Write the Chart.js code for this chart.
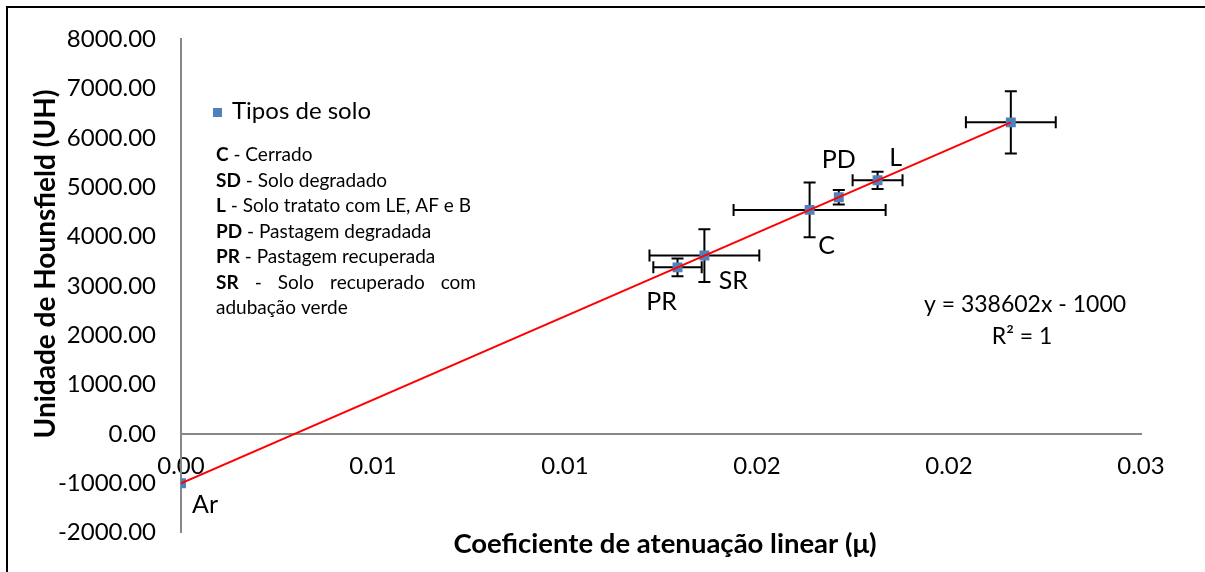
<!DOCTYPE html>
<html>
<head>
<meta charset="utf-8">
<script src="https://cdn.jsdelivr.net/npm/chart.js@4"></script>
<style>
html,body{margin:0;padding:0;background:#fff;}
#wrap{width:1205px;height:572px;position:relative;}
</style>
</head>
<body>
<div id="wrap"><canvas id="c" width="1205" height="572"></canvas></div>
<script>
// ---- data ----
const soilLabels = ['Ar', 'PR', 'SR', 'C', 'PD', 'L', 'SD'];
const muValues   = [0, 0.01293, 0.01363, 0.01637, 0.01713, 0.01814, 0.02161];
const huValues   = [-1000, 3378, 3617, 4543, 4799, 5144, 6318];
const muErrors   = [0, 0.00063, 0.00143, 0.00198, 0, 0.00065, 0.00117];
const huErrors   = [0, 180, 536, 556, 149, 175, 629];
const trendX     = [0, 0.02161];
const trendY     = [-1000, 6318];
const xTickLabels = ['0.00', '0.01', '0.01', '0.02', '0.02', '0.03'];
const yTickLabels = ['-2000.00','-1000.00','0.00','1000.00','2000.00','3000.00','4000.00','5000.00','6000.00','7000.00','8000.00'];
const legendLines = [
  ['C', ' - Cerrado'],
  ['SD', ' - Solo degradado'],
  ['L', ' - Solo tratato com LE, AF e B'],
  ['PD', ' - Pastagem degradada'],
  ['PR', ' - Pastagem recuperada'],
  ['SR', ' -  Solo  recuperado  com'],
  ['', 'adubação verde']
];
const FONT = 'Lato, "Open Sans", sans-serif';

const points = muValues.map((x, i) => ({x: x, y: huValues[i]}));
const trend = trendX.map((x, i) => ({x: x, y: trendY[i]}));

const errorBars = {
  id: 'errorBars',
  beforeDatasetsDraw(chart) {
    const ctx = chart.ctx, xs = chart.scales.x, ys = chart.scales.y;
    ctx.save();
    ctx.strokeStyle = '#000';
    ctx.lineWidth = 2;
    const cap = 6;
    muValues.forEach((mx, i) => {
      const px = xs.getPixelForValue(mx), py = ys.getPixelForValue(huValues[i]);
      if (muErrors[i] > 0) {
        const l = xs.getPixelForValue(mx - muErrors[i]), r = xs.getPixelForValue(mx + muErrors[i]);
        ctx.beginPath();
        ctx.moveTo(l, py); ctx.lineTo(r, py);
        ctx.moveTo(l, py - cap); ctx.lineTo(l, py + cap);
        ctx.moveTo(r, py - cap); ctx.lineTo(r, py + cap);
        ctx.stroke();
      }
      if (huErrors[i] > 0) {
        const t = ys.getPixelForValue(huValues[i] + huErrors[i]), b = ys.getPixelForValue(huValues[i] - huErrors[i]);
        ctx.beginPath();
        ctx.moveTo(px, t); ctx.lineTo(px, b);
        ctx.moveTo(px - cap, t); ctx.lineTo(px + cap, t);
        ctx.moveTo(px - cap, b); ctx.lineTo(px + cap, b);
        ctx.stroke();
      }
    });
    ctx.restore();
  }
};

const decorations = {
  id: 'decorations',
  afterDraw(chart) {
    const ctx = chart.ctx, xs = chart.scales.x, ys = chart.scales.y;
    ctx.save();
    // outer frame
    ctx.strokeStyle = '#000';
    ctx.lineWidth = 2;
    ctx.beginPath();
    ctx.moveTo(7, 572); ctx.lineTo(7, 7); ctx.lineTo(1205, 7);
    ctx.stroke();

    ctx.fillStyle = '#000';
    // point labels
    ctx.font = '25px ' + FONT;
    ctx.textAlign = 'center';
    ctx.textBaseline = 'middle';
    const offs = {Ar: [24, 22], PR: [-16, 35], SR: [29, 25], C: [17, 36], PD: [0, -37], L: [18, -22]};
    soilLabels.forEach((lab, i) => {
      if (!offs[lab]) return;
      const px = xs.getPixelForValue(muValues[i]), py = ys.getPixelForValue(huValues[i]);
      ctx.fillText(lab, px + offs[lab][0], py + offs[lab][1]);
    });

    // legend
    ctx.fillStyle = '#4F81BD';
    ctx.fillRect(213, 108, 9, 9);
    ctx.fillStyle = '#000';
    ctx.textAlign = 'left';
    ctx.font = '24px ' + FONT;
    ctx.fillText('Tipos de solo', 232, 111);
    legendLines.forEach((ln, i) => {
      const y = 155 + i * 25.5;
      let x = 216;
      ctx.font = 'bold 19px ' + FONT;
      ctx.fillText(ln[0], x, y);
      x += ctx.measureText(ln[0]).width;
      ctx.font = '19px ' + FONT;
      if (i === 5) {
        // justified line
        const words = ['-', 'Solo', 'recuperado', 'com'];
        const total = words.reduce((s, w) => s + ctx.measureText(w).width, 0);
        const right = 476;
        const gap = (right - x - total) / words.length;
        words.forEach(w => { x += gap; ctx.fillText(w, x, y); x += ctx.measureText(w).width; });
      } else {
        ctx.fillText(ln[1], x, y);
      }
    });

    // equation
    ctx.textAlign = 'center';
    ctx.font = '23px ' + FONT;
    ctx.fillText('y = 338602x - 1000', 1025, 305);
    ctx.fillText('R² = 1', 1022, 337);

    // axis titles
    ctx.font = 'bold 27.5px ' + FONT;
    ctx.fillText('Coeficiente de atenuação linear (μ)', 665, 544);
    ctx.save();
    ctx.translate(46, 264);
    ctx.rotate(-Math.PI / 2);
    ctx.font = 'bold 28px ' + FONT;
    ctx.fillText('Unidade de Hounsfield (UH)', 0, 0);
    ctx.restore();
    ctx.restore();
  }
};

new Chart(document.getElementById('c'), {
  type: 'scatter',
  data: {
    datasets: [
      {
        label: 'Tipos de solo',
        data: points,
        pointStyle: 'rect',
        pointRadius: 7,
        pointHoverRadius: 7,
        backgroundColor: '#4F81BD',
        borderColor: '#4F81BD',
        borderWidth: 0,
        order: 2
      },
      {
        label: 'trend',
        type: 'line',
        data: trend,
        borderColor: '#FF0000',
        borderWidth: 2,
        pointRadius: 0,
        fill: false,
        order: 1
      }
    ]
  },
  options: {
    responsive: false,
    animation: false,
    events: [],
    layout: {padding: {left: 0, top: 30, right: 64, bottom: 38}},
    plugins: {legend: {display: false}, tooltip: {enabled: false}},
    scales: {
      x: {
        type: 'linear',
        position: {y: 0},
        min: 0, max: 0.025,
        grid: {display: false, drawTicks: false},
        border: {display: true, color: '#888', width: 2},
        ticks: {
          stepSize: 0.005,
          padding: 18,
          color: '#000',
          font: {family: FONT, size: 24},
          callback: (v, i) => xTickLabels[i]
        }
      },
      y: {
        type: 'linear',
        position: 'left',
        min: -2000, max: 8000,
        afterFit: s => { s.width = 181; },
        grid: {display: false, drawTicks: false},
        border: {display: true, color: '#888', width: 2},
        ticks: {
          stepSize: 1000,
          padding: 25,
          color: '#000',
          font: {family: FONT, size: 24},
          callback: (v, i) => yTickLabels[i]
        }
      }
    }
  },
  plugins: [errorBars, decorations]
});
</script>
</body>
</html>
